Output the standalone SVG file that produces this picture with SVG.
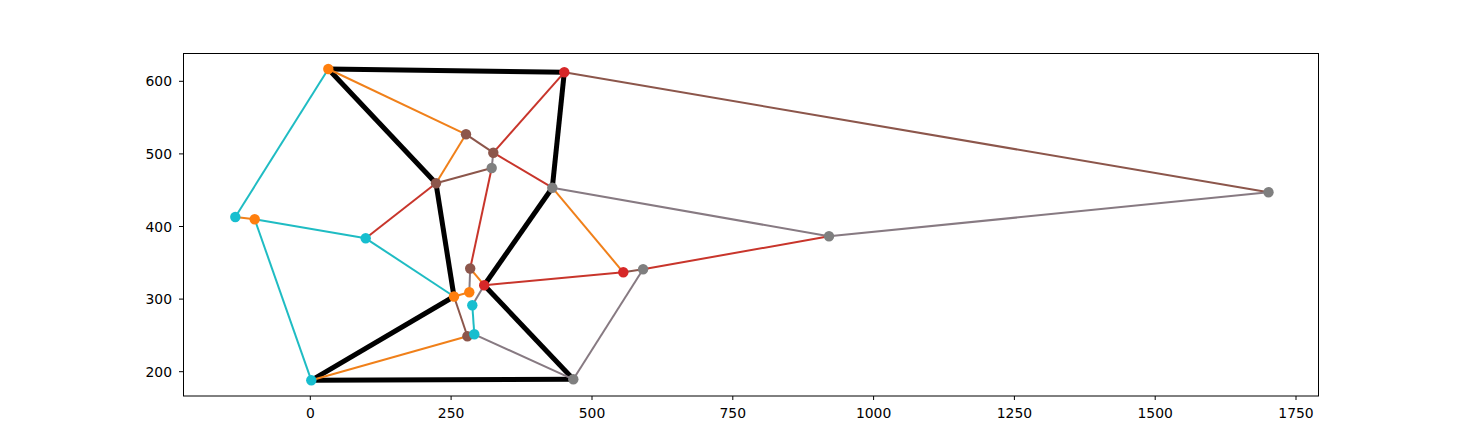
<svg xmlns="http://www.w3.org/2000/svg" width="1466" height="445" viewBox="0 0 1466 445">
<style>
text{font-family:"DejaVu Sans",sans-serif;font-size:13.9px;fill:#000}
.yl{text-anchor:end}
.xl{text-anchor:middle}
.tick{stroke:#000;stroke-width:1}
.e{fill:none;stroke-width:2;stroke-linecap:butt}
.k{stroke:#000;stroke-width:5}
.c{stroke:#1fbcc3}.o{stroke:#f0801a}.r{stroke:#c8352b}.b{stroke:#8c564b}.g{stroke:#7f7f7f}.p{stroke:#877a82}
.nc{fill:#17becf}.no{fill:#ff7f0e}.nr{fill:#d62728}.nb{fill:#8c564b}.ng{fill:#7f7f7f}
</style>
<rect width="1466" height="445" fill="#fff"/>
<g id="axes">
<rect x="183.5" y="53.5" width="1135" height="342.5" fill="none" stroke="#000" stroke-width="1"/>
<g class="tick">
<line x1="179" y1="81.3" x2="183" y2="81.3"/><line x1="179" y1="153.9" x2="183" y2="153.9"/><line x1="179" y1="226.5" x2="183" y2="226.5"/><line x1="179" y1="299.1" x2="183" y2="299.1"/><line x1="179" y1="371.7" x2="183" y2="371.7"/>
<line x1="310.3" y1="396" x2="310.3" y2="400"/><line x1="451.1" y1="396" x2="451.1" y2="400"/><line x1="592" y1="396" x2="592" y2="400"/><line x1="732.8" y1="396" x2="732.8" y2="400"/><line x1="873.6" y1="396" x2="873.6" y2="400"/><line x1="1014.4" y1="396" x2="1014.4" y2="400"/><line x1="1155.2" y1="396" x2="1155.2" y2="400"/><line x1="1296" y1="396" x2="1296" y2="400"/>
</g>
<text class="yl" x="172" y="86.3">600</text>
<text class="yl" x="172" y="158.9">500</text>
<text class="yl" x="172" y="231.5">400</text>
<text class="yl" x="172" y="304.1">300</text>
<text class="yl" x="172" y="376.7">200</text>
<text class="xl" x="310.3" y="417.7">0</text>
<text class="xl" x="451.1" y="417.7">250</text>
<text class="xl" x="592" y="417.7">500</text>
<text class="xl" x="732.8" y="417.7">750</text>
<text class="xl" x="873.6" y="417.7">1000</text>
<text class="xl" x="1014.4" y="417.7">1250</text>
<text class="xl" x="1155.2" y="417.7">1500</text>
<text class="xl" x="1296" y="417.7">1750</text>
</g>
<g id="connectors">
<line class="e g" x1="311.3" y1="380.3" x2="573.3" y2="379.3"/>
<line class="e k" x1="328.3" y1="69" x2="564.3" y2="72.3"/>
<line class="e k" x1="564.3" y1="72.3" x2="552.3" y2="187.7"/>
<line class="e k" x1="328.3" y1="69" x2="436" y2="183.3"/>
<line class="e k" x1="436" y1="183.3" x2="454" y2="296.5"/>
<line class="e k" x1="454" y1="296.5" x2="311.3" y2="380.3"/>
<line class="e k" x1="311.3" y1="380.3" x2="573.3" y2="379.3"/>
<line class="e k" x1="552.3" y1="187.7" x2="484.2" y2="285.2"/>
<line class="e k" x1="484.2" y1="285.2" x2="573.3" y2="379.3"/>
<line class="e c" x1="328.3" y1="69" x2="235.3" y2="217"/>
<line class="e o" x1="235.3" y1="217" x2="254.7" y2="219.3"/>
<line class="e c" x1="254.7" y1="219.3" x2="365.7" y2="238.3"/>
<line class="e c" x1="254.7" y1="219.3" x2="311.3" y2="380.3"/>
<line class="e c" x1="365.7" y1="238.3" x2="454" y2="296.5"/>
<line class="e r" x1="365.7" y1="238.3" x2="436" y2="183.3"/>
<line class="e o" x1="328.3" y1="69" x2="466" y2="134.3"/>
<line class="e o" x1="466" y1="134.3" x2="436" y2="183.3"/>
<line class="e b" x1="466" y1="134.3" x2="493.3" y2="152.7"/>
<line class="e b" x1="436" y1="183.3" x2="491.7" y2="168"/>
<line class="e p" x1="493.3" y1="152.7" x2="491.7" y2="168"/>
<line class="e r" x1="564.3" y1="72.3" x2="493.3" y2="152.7"/>
<line class="e r" x1="493.3" y1="152.7" x2="552.3" y2="187.7"/>
<line class="e r" x1="491.7" y1="168" x2="470.2" y2="268.5"/>
<line class="e o" x1="552.3" y1="187.7" x2="623.3" y2="272.3"/>
<line class="e p" x1="552.3" y1="187.7" x2="829" y2="236.3"/>
<line class="e b" x1="564.3" y1="72.3" x2="1268.5" y2="192.3"/>
<line class="e p" x1="829" y1="236.3" x2="1268.5" y2="192.3"/>
<line class="e r" x1="484.2" y1="285.2" x2="623.3" y2="272.3"/>
<line class="e b" x1="623.3" y1="272.3" x2="643.1" y2="269.2"/>
<line class="e r" x1="643.1" y1="269.2" x2="829" y2="236.3"/>
<line class="e p" x1="643.1" y1="269.2" x2="573.3" y2="379.3"/>
<line class="e o" x1="470.2" y1="268.5" x2="484.2" y2="285.2"/>
<line class="e p" x1="470.2" y1="268.5" x2="469.3" y2="292.2"/>
<line class="e o" x1="454" y1="296.5" x2="469.3" y2="292.2"/>
<line class="e p" x1="484.2" y1="285.2" x2="472.3" y2="305.3"/>
<line class="e c" x1="472.3" y1="305.3" x2="474.3" y2="334.3"/>
<line class="e b" x1="454" y1="296.5" x2="467.4" y2="336.3"/>
<line class="e o" x1="311.3" y1="380.3" x2="467.4" y2="336.3"/>
<line class="e b" x1="467.4" y1="336.3" x2="474.3" y2="334.3"/>
<line class="e p" x1="474.3" y1="334.3" x2="573.3" y2="379.3"/>
</g>
<g id="n1"><circle class="no" cx="328.3" cy="69" r="5.2"/></g>
<g id="n2"><circle class="nr" cx="564.3" cy="72.3" r="5.2"/></g>
<g id="n3"><circle class="nb" cx="466" cy="134.3" r="5.2"/></g>
<g id="n4"><circle class="nb" cx="493.3" cy="152.7" r="5.2"/></g>
<g id="n5"><circle class="ng" cx="491.7" cy="168" r="5.2"/></g>
<g id="n6"><circle class="nb" cx="436" cy="183.3" r="5.2"/></g>
<g id="n7"><circle class="ng" cx="552.3" cy="187.7" r="5.2"/></g>
<g id="n8"><circle class="nc" cx="235.3" cy="217" r="5.2"/></g>
<g id="n9"><circle class="no" cx="254.7" cy="219.3" r="5.2"/></g>
<g id="n10"><circle class="nc" cx="365.7" cy="238.3" r="5.2"/></g>
<g id="n11"><circle class="nb" cx="470.2" cy="268.5" r="5.2"/></g>
<g id="n12"><circle class="nr" cx="484.2" cy="285.2" r="5.2"/></g>
<g id="n13"><circle class="no" cx="469.3" cy="292.2" r="5.2"/></g>
<g id="n14"><circle class="no" cx="454" cy="296.5" r="5.2"/></g>
<g id="n15"><circle class="nc" cx="472.3" cy="305.3" r="5.2"/></g>
<g id="n16"><circle class="nb" cx="467.4" cy="336.3" r="5.2"/></g>
<g id="n17"><circle class="nc" cx="474.3" cy="334.3" r="5.2"/></g>
<g id="n18"><circle class="nc" cx="311.3" cy="380.3" r="5.2"/></g>
<g id="n19"><circle class="ng" cx="573.3" cy="379.3" r="5.2"/></g>
<g id="n20"><circle class="nr" cx="623.3" cy="272.3" r="5.2"/></g>
<g id="n21"><circle class="ng" cx="643.1" cy="269.2" r="5.2"/></g>
<g id="n22"><circle class="ng" cx="829" cy="236.3" r="5.2"/></g>
<g id="n23"><circle class="ng" cx="1268.5" cy="192.3" r="5.2"/></g>
</svg>
